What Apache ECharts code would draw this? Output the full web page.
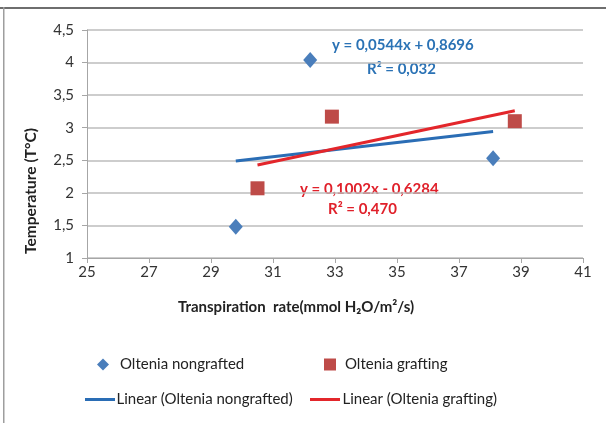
<!DOCTYPE html>
<html>
<head>
<meta charset="utf-8">
<script src="https://cdn.jsdelivr.net/npm/echarts@6/dist/echarts.min.js"></script>
<style>
  html, body { margin: 0; padding: 0; background: #fff; }
  #chart { width: 606px; height: 423px; }
</style>
</head>
<body>
<div id="chart"></div>
<script>
// values
var nongraftedX = [29.8, 32.2, 38.1];
var nongraftedY = [1.48, 4.04, 2.53];
var graftingX = [30.5, 32.9, 38.8];
var graftingY = [2.07, 3.17, 3.10];
// trendline coefficients as printed on the chart
var nongraftedFit = { slope: 0.0544, intercept: 0.8696, r2: '0,032' };
var graftingFit = { slope: 0.1002, intercept: -0.6284, r2: '0,470' };
var xTicks = [25, 27, 29, 31, 33, 35, 37, 39, 41];
var yTicks = [1, 1.5, 2, 2.5, 3, 3.5, 4, 4.5];

var BLUE_PT = '#4a7ebb';
var RED_PT = '#be4b48';
var BLUE_LN = '#2a6db5';
var RED_LN = '#e3262b';
var FONT = 'Lato';

function pairs(xs, ys) {
  return xs.map(function (x, i) { return [x, ys[i]]; });
}
// trendline runs from the smallest to the largest x of its series
function trend(xs, fit) {
  var lo = Math.min.apply(null, xs), hi = Math.max.apply(null, xs);
  return [[lo, fit.slope * lo + fit.intercept], [hi, fit.slope * hi + fit.intercept]];
}
function comma(v) { return String(v).replace('.', ','); }
function eq(fit) {
  var s = fit.intercept < 0 ? ' - ' : ' + ';
  return 'y = ' + comma(fit.slope) + 'x' + s + comma(Math.abs(fit.intercept));
}

var chart = echarts.init(document.getElementById('chart'));
var lineIcon = 'path://M0,0 L30,0 L30,3 L0,3 Z';

function legend(name, left, top, icon, w, h, pad) {
  return {
    data: [{ name: name, icon: icon }],
    left: left, top: top, padding: 0,
    itemWidth: w, itemHeight: h, itemGap: 0,
    textStyle: { fontFamily: FONT, fontSize: 15, color: '#222', padding: [0, 0, 0, pad] },
    selectedMode: false
  };
}

chart.setOption({
  backgroundColor: '#fff',
  animation: false,
  grid: { left: 87, right: 23, top: 30, bottom: 165 },
  xAxis: {
    type: 'value', min: xTicks[0], max: xTicks[xTicks.length - 1], interval: 2,
    name: 'Transpiration  rate(mmol H\u2082O/m\u00b2/s)',
    nameLocation: 'middle', nameGap: 42,
    nameTextStyle: { fontFamily: FONT, fontSize: 15, fontWeight: 'bold', color: '#222', padding: [0, 78, 0, 0] },
    axisLine: { lineStyle: { color: '#a6a6a6' } },
    axisTick: { show: true, length: 5, lineStyle: { color: '#a6a6a6' } },
    axisLabel: { fontFamily: FONT, fontSize: 15, color: '#333', margin: 7 },
    splitLine: { show: false }
  },
  yAxis: {
    type: 'value', min: yTicks[0], max: yTicks[yTicks.length - 1], interval: 0.5,
    name: 'Temperature (T\u00b0C)',
    nameLocation: 'middle', nameGap: 48, nameRotate: 90,
    nameTextStyle: { fontFamily: FONT, fontSize: 15.5, fontWeight: 'bold', color: '#222', padding: [0, 94, 0, 0] },
    axisLine: { show: true, lineStyle: { color: '#a6a6a6' } },
    axisTick: { show: true, length: 5, lineStyle: { color: '#a6a6a6' } },
    axisLabel: { fontFamily: FONT, fontSize: 15, color: '#333', margin: 13, formatter: comma },
    splitLine: { lineStyle: { color: '#bdbdbd', width: 1.5 } }
  },
  legend: [
    legend('Oltenia nongrafted', 97, 357, 'diamond', 12, 12, 6),
    legend('Oltenia grafting', 324, 357, 'rect', 12, 12, 4),
    legend('Linear (Oltenia nongrafted)', 85, 392, lineIcon, 33, 3, -5),
    legend('Linear (Oltenia grafting)', 310, 392, lineIcon, 33, 3, -4)
  ],
  series: [
    {
      name: 'Linear (Oltenia nongrafted)', type: 'line',
      data: trend(nongraftedX, nongraftedFit),
      symbol: 'none', lineStyle: { color: BLUE_LN, width: 3 }, itemStyle: { color: BLUE_LN }, z: 3
    },
    {
      name: 'Linear (Oltenia grafting)', type: 'line',
      data: trend(graftingX, graftingFit),
      symbol: 'none', lineStyle: { color: RED_LN, width: 3 }, itemStyle: { color: RED_LN }, z: 3
    },
    {
      name: 'Oltenia nongrafted', type: 'scatter',
      data: pairs(nongraftedX, nongraftedY),
      symbol: 'diamond', symbolSize: [14, 16], itemStyle: { color: BLUE_PT, opacity: 1 }, z: 4
    },
    {
      name: 'Oltenia grafting', type: 'scatter',
      data: pairs(graftingX, graftingY),
      symbol: 'rect', symbolSize: 14, itemStyle: { color: RED_PT, opacity: 1 }, z: 4
    }
  ],
  graphic: [
    { type: 'rect', shape: { x: 0, y: 7, width: 606, height: 2 }, style: { fill: '#6e6e6e' }, silent: true },
    { type: 'rect', shape: { x: 3, y: 7, width: 1.5, height: 416 }, style: { fill: '#9e9e9e' }, silent: true },
    {
      type: 'text', left: 332, top: 38,
      style: { text: eq(nongraftedFit), fontFamily: FONT, fontSize: 15, fontWeight: 'bold', fill: '#2a72b5' }
    },
    {
      type: 'text', left: 367, top: 62,
      style: { text: 'R\u00b2 = ' + nongraftedFit.r2, fontFamily: FONT, fontSize: 15, fontWeight: 'bold', fill: '#2a72b5' }
    },
    {
      type: 'text', left: 300, top: 182,
      style: { text: eq(graftingFit), fontFamily: FONT, fontSize: 15, fontWeight: 'bold', fill: '#e0202a' }
    },
    {
      type: 'text', left: 328, top: 202,
      style: { text: 'R\u00b2 = ' + graftingFit.r2, fontFamily: FONT, fontSize: 15, fontWeight: 'bold', fill: '#e0202a' }
    }
  ]
});
</script>
</body>
</html>
